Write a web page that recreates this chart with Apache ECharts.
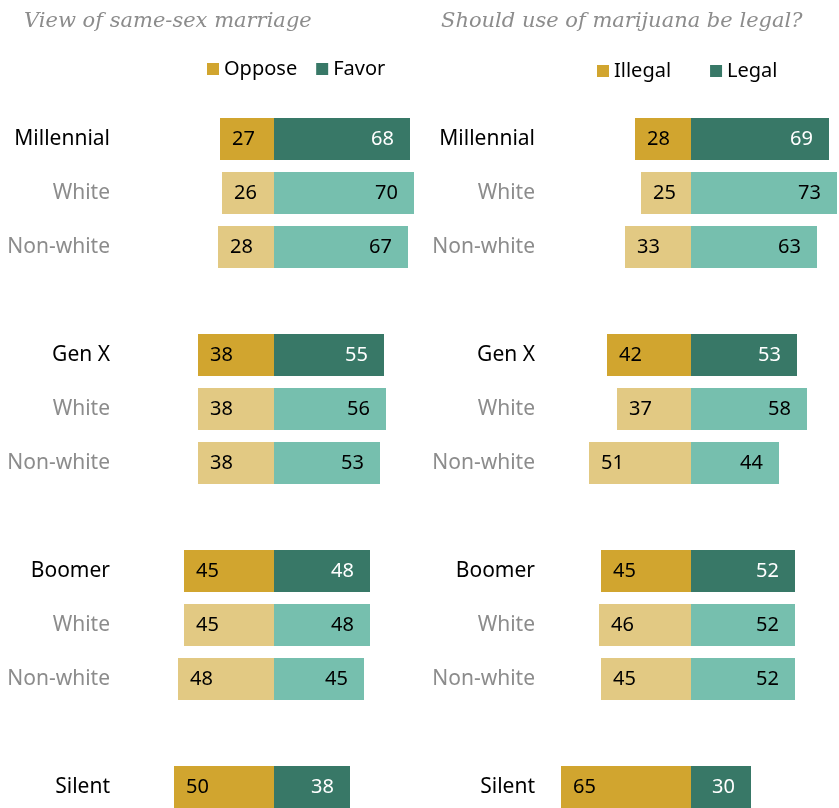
<!DOCTYPE html>
<html>
<head>
<meta charset="utf-8">
<script src="https://cdn.jsdelivr.net/npm/echarts@6/dist/echarts.min.js"></script>
<style>
  html, body { margin: 0; padding: 0; background: #fff; overflow: hidden; }
  /* a bit taller than the window so the last row's band is not clipped */
  #chart { width: 839px; height: 820px; }
</style>
</head>
<body>
<div id="chart"></div>
<script>
// rows, blank strings are spacer rows between generations
const categories = ['Millennial', 'White', 'Non-white', '', 'Gen X', 'White', 'Non-white', '', 'Boomer', 'White', 'Non-white', '', 'Silent']
const marriageOppose = [27, 26, 28, null, 38, 38, 38, null, 45, 45, 48, null, 50]
const marriageFavor = [68, 70, 67, null, 55, 56, 53, null, 48, 48, 45, null, 38]
const marijuanaIllegal = [28, 25, 33, null, 42, 37, 51, null, 45, 46, 45, null, 65]
const marijuanaLegal = [69, 73, 63, null, 53, 58, 44, null, 52, 52, 52, null, 30]

const GOLD = '#d1a52f'
const GOLD_LIGHT = '#e2c983'
const TEAL = '#387867'
const TEAL_LIGHT = '#76bfae'
const FONT = 'Noto Sans'

const isSub = (i) => categories[i] === 'White' || categories[i] === 'Non-white'

function makeSeries (name, values, idx, negative) {
  const dark = negative ? GOLD : TEAL
  const light = negative ? GOLD_LIGHT : TEAL_LIGHT
  return {
    name: name,
    type: 'bar',
    stack: 'total' + idx,
    xAxisIndex: idx,
    yAxisIndex: idx,
    barWidth: 42,
    color: dark,
    data: values.map((v, i) => ({
      value: v == null ? null : (negative ? -v : v),
      itemStyle: { color: isSub(i) ? light : dark }
    })),
    label: {
      show: true,
      position: negative ? 'insideLeft' : 'insideRight',
      distance: negative ? 12 : 16,
      formatter: (p) => {
        const v = Math.abs(p.value)
        const white = !negative && !isSub(p.dataIndex)
        return white ? '{w|' + v + '}' : '{b|' + v + '}'
      },
      rich: {
        w: { color: '#fff', fontSize: 20, fontFamily: FONT },
        b: { color: '#000', fontSize: 20, fontFamily: FONT }
      }
    },
    emphasis: { disabled: true }
  }
}

function makeYAxis (idx) {
  return {
    type: 'category',
    gridIndex: idx,
    inverse: true,
    data: categories,
    axisLine: { show: false },
    axisTick: { show: false },
    axisLabel: {
      margin: 4,
      fontSize: 21,
      fontFamily: FONT,
      color: (val, i) => isSub(i) ? '#8c8c8c' : '#000'
    }
  }
}

function makeXAxis (idx, min, max) {
  return {
    type: 'value',
    gridIndex: idx,
    min: min,
    max: max,
    show: false,
    splitLine: { show: false }
  }
}

const titleStyle = { fontFamily: 'DejaVu Serif', fontStyle: 'italic', fontWeight: 'normal', fontSize: 21, color: '#8c8c8c' }
const legendText = { fontFamily: FONT, fontSize: 20, color: '#000' }

const option = {
  animation: false,
  title: [
    { text: 'View of same-sex marriage', left: 19, top: 6, textStyle: titleStyle },
    { text: 'Should use of marijuana be legal?', left: 436, top: 6, textStyle: titleStyle }
  ],
  legend: [
    {
      data: ['Oppose', 'Favor'],
      left: 202,
      top: 54,
      itemWidth: 12,
      itemHeight: 12,
      itemGap: 19,
      icon: 'rect',
      textStyle: legendText
    },
    {
      data: ['Illegal', 'Legal'],
      left: 592,
      top: 56,
      itemWidth: 12,
      itemHeight: 12,
      itemGap: 39,
      icon: 'rect',
      textStyle: legendText
    }
  ],
  grid: [
    { left: 114, top: 112, width: 300, height: 702 },
    { left: 539, top: 112, width: 300, height: 702 }
  ],
  xAxis: [makeXAxis(0, -80, 70), makeXAxis(1, -76, 74)],
  yAxis: [makeYAxis(0), makeYAxis(1)],
  series: [
    makeSeries('Oppose', marriageOppose, 0, true),
    makeSeries('Favor', marriageFavor, 0, false),
    makeSeries('Illegal', marijuanaIllegal, 1, true),
    makeSeries('Legal', marijuanaLegal, 1, false)
  ]
}

const chart = echarts.init(document.getElementById('chart'))
chart.setOption(option)
window.addEventListener('resize', () => chart.resize())
</script>
</body>
</html>
